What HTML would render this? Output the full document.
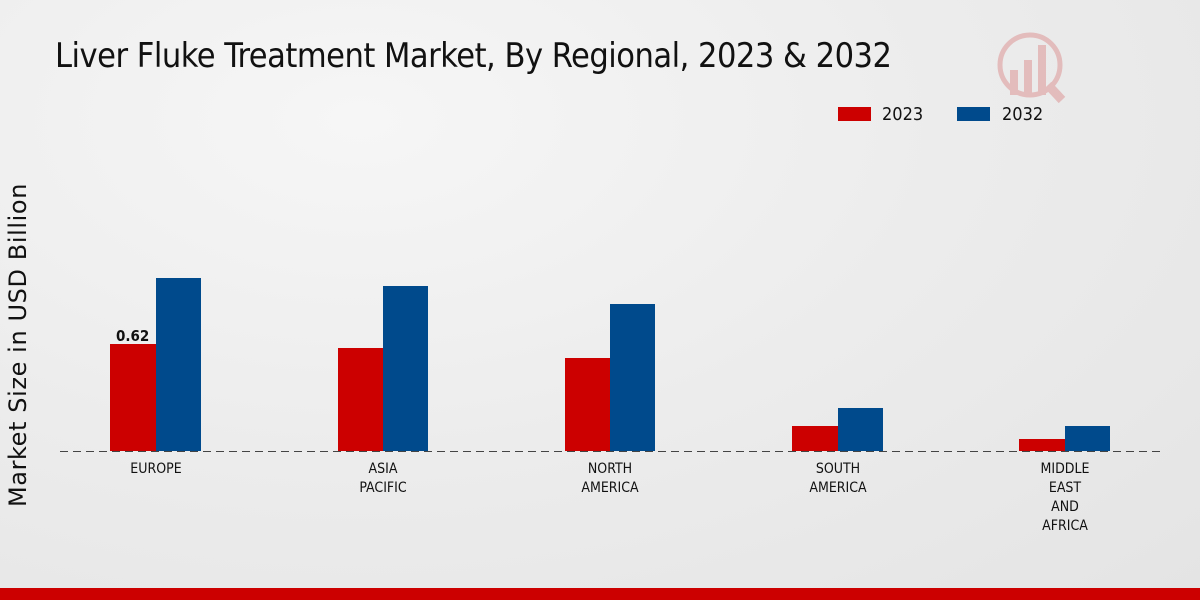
<!DOCTYPE html>
<html><head><meta charset="utf-8"><style>
html,body{margin:0;padding:0}
body{width:1200px;height:600px;position:relative;overflow:hidden;background:radial-gradient(ellipse at 30% 20%,#f6f6f6 0%,#ececec 50%,#e4e4e4 100%);font-family:"DejaVu Sans Condensed","DejaVu Sans","Liberation Sans",sans-serif;}
.t{position:absolute;white-space:nowrap;color:#111}
.bar{position:absolute}
.r{background:#cc0000}.b{background:#004a8c}
.lab{position:absolute;font-size:14px;text-align:center;width:120px;line-height:19px;color:#111}
</style></head><body>
<div class="t" style="left:55px;top:36px;font-size:34px;letter-spacing:-0.5px">Liver Fluke Treatment Market, By Regional, 2023 &amp; 2032</div>
<div class="bar r" style="left:838px;top:107px;width:33px;height:14px"></div>
<div class="t" style="left:882px;top:104px;font-size:18px">2023</div>
<div class="bar b" style="left:957px;top:107px;width:33px;height:14px"></div>
<div class="t" style="left:1002px;top:104px;font-size:18px">2032</div>
<div class="t" style="left:-182px;top:331px;font-size:24px;letter-spacing:0.6px;font-family:'DejaVu Sans',sans-serif;transform:rotate(-90deg);width:400px;text-align:center">Market Size in USD Billion</div>
<svg style="position:absolute;left:0;top:0" width="1200" height="600">
<line x1="60" y1="451.5" x2="1160" y2="451.5" stroke="#444" stroke-width="1" stroke-dasharray="8,5"/>
<g opacity="0.25" fill="#c33"><circle cx="1030" cy="65" r="30" fill="none" stroke="#c33" stroke-width="5"/><rect x="1010" y="70" width="8" height="25"/><rect x="1024" y="60" width="8" height="35"/><rect x="1038" y="45" width="8" height="50"/><line x1="1048" y1="85" x2="1062" y2="100" stroke="#c33" stroke-width="9"/></g>
</svg>
<div class="bar r" style="left:110px;top:344px;width:46px;height:107px"></div>
<div class="bar b" style="left:156px;top:278px;width:45px;height:173px"></div>
<div class="bar r" style="left:338px;top:348px;width:45px;height:103px"></div>
<div class="bar b" style="left:383px;top:286px;width:45px;height:165px"></div>
<div class="bar r" style="left:565px;top:358px;width:45px;height:93px"></div>
<div class="bar b" style="left:610px;top:304px;width:45px;height:147px"></div>
<div class="bar r" style="left:792px;top:426px;width:46px;height:25px"></div>
<div class="bar b" style="left:838px;top:408px;width:45px;height:43px"></div>
<div class="bar r" style="left:1019px;top:439px;width:46px;height:12px"></div>
<div class="bar b" style="left:1065px;top:426px;width:45px;height:25px"></div>
<div class="t" style="left:116px;top:327px;font-size:15px;font-weight:bold">0.62</div>
<div class="lab" style="left:96px;top:460px">EUROPE</div>
<div class="lab" style="left:323px;top:460px">ASIA<br>PACIFIC</div>
<div class="lab" style="left:550px;top:460px">NORTH<br>AMERICA</div>
<div class="lab" style="left:778px;top:460px">SOUTH<br>AMERICA</div>
<div class="lab" style="left:1005px;top:460px">MIDDLE<br>EAST<br>AND<br>AFRICA</div>
<div class="bar r" style="left:0;top:588px;width:1200px;height:12px"></div>
</body></html>
